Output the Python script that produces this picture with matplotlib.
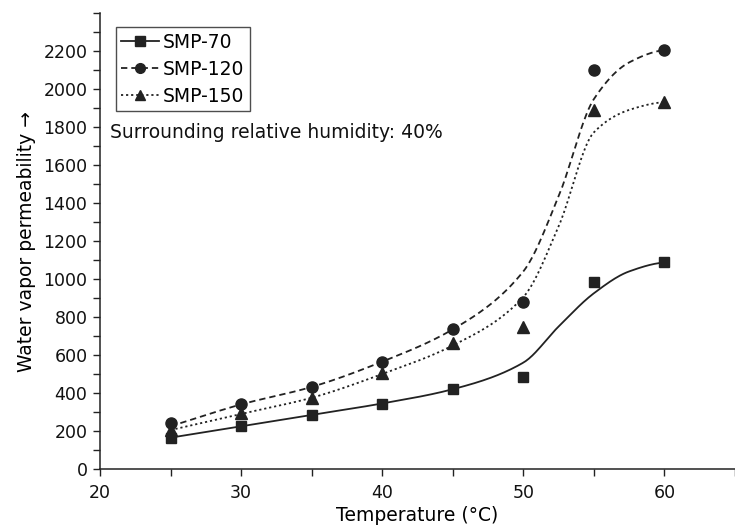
import numpy as np
import matplotlib as mpl
mpl.use('agg')
import matplotlib.pyplot as plt
from matplotlib.ticker import MultipleLocator

plt.rcParams['font.family'] = ['DejaVu Sans']

temps = [25, 30, 35, 40, 45, 50, 55, 60]
smp70 = [163, 227, 285, 343, 422, 485, 986, 1087]
smp120 = [243, 343, 433, 565, 739, 881, 2100, 2205]
smp150 = [205, 295, 375, 506, 662, 749, 1889, 1931]

# smoothed fit curves at these temperatures
fit_t = [25, 30, 35, 40, 45, 50, 52.5, 55, 57.5, 60]
fit70 = [165, 225, 285, 345, 420, 560, 750, 925, 1040, 1087]
fit120 = [225, 340, 432, 565, 735, 1040, 1435, 1947, 2140, 2205]
fit150 = [205, 290, 375, 500, 650, 905, 1277, 1772, 1890, 1931]


def pchip(x, y, xs):
    x = np.asarray(x, float)
    y = np.asarray(y, float)
    h = np.diff(x)
    d = np.diff(y) / h
    m = np.zeros_like(y)
    for k in range(1, len(x) - 1):
        if d[k - 1] * d[k] > 0:
            w1 = 2 * h[k] + h[k - 1]
            w2 = h[k] + 2 * h[k - 1]
            m[k] = (w1 + w2) / (w1 / d[k - 1] + w2 / d[k])
    m[0] = d[0]
    m[-1] = d[-1] * 0.3
    idx = np.clip(np.searchsorted(x, xs) - 1, 0, len(h) - 1)
    t = (xs - x[idx]) / h[idx]
    h00 = 2 * t**3 - 3 * t**2 + 1
    h10 = t**3 - 2 * t**2 + t
    h01 = -2 * t**3 + 3 * t**2
    h11 = t**3 - t**2
    return h00 * y[idx] + h10 * h[idx] * m[idx] + h01 * y[idx + 1] + h11 * h[idx] * m[idx + 1]


fig = plt.figure(figsize=(7.35, 5.29), dpi=100)
ax = fig.add_axes((0.136, 0.1134, 0.864, 0.862))

xs = np.linspace(25, 60, 300)
series = [
    ('SMP-70', smp70, fit70, 's', '-', 7.5),
    ('SMP-120', smp120, fit120, 'o', (0, (3.5, 2.2)), 8),
    ('SMP-150', smp150, fit150, '^', (0, (1.2, 1.6)), 8.5),
]
handles = []
for label, vals, fit, mk, ls, ms in series:
    ax.plot(xs, pchip(fit_t, fit, xs), color='#222222', lw=1.3, linestyle=ls)
    ax.plot(temps, vals, linestyle='none', marker=mk, ms=ms, color='#222222')
    h, = ax.plot([], [], color='#222222', lw=1.3, linestyle=ls, marker=mk, ms=ms - 1)
    handles.append((h, label))

ax.set_xlim(20, 65)
ax.set_ylim(0, 2400)
ax.xaxis.set_minor_locator(MultipleLocator(5))
ax.yaxis.set_minor_locator(MultipleLocator(100))
ax.set_yticks([0, 200, 400, 600, 800, 1000, 1200, 1400, 1600, 1800, 2000, 2200])
ax.set_xticks([20, 30, 40, 50, 60])
for s in ['top', 'right']:
    ax.spines[s].set_visible(False)
for s in ['left', 'bottom']:
    ax.spines[s].set_linewidth(1.1)
    ax.spines[s].set_color('#222222')
ax.tick_params(which='both', direction='out', length=5, width=1.0, colors='#222222',
               labelsize=12.5, labelcolor='#111111')
ax.tick_params(axis='x', pad=6)
ax.tick_params(axis='y', pad=4)

ax.set_xlabel('Temperature (\u00b0C)', fontsize=13.5, labelpad=3)
ax.set_ylabel('Water vapor permeability \u2192', fontsize=13.5, labelpad=5)

leg = ax.legend([h for h, _ in handles], [l for _, l in handles], loc='upper left',
                bbox_to_anchor=(0.025, 0.969), fontsize=13.5, frameon=True, fancybox=False,
                edgecolor='#222222', handlelength=2.0, handletextpad=0.2,
                borderpad=0.3, labelspacing=0.42, borderaxespad=0)
leg.get_frame().set_linewidth(1.0)

ax.text(0.016, 0.738, 'Surrounding relative humidity: 40%', transform=ax.transAxes,
        fontsize=13.5, color='#111111', va='center')

fig.savefig('out.png', dpi=100)
